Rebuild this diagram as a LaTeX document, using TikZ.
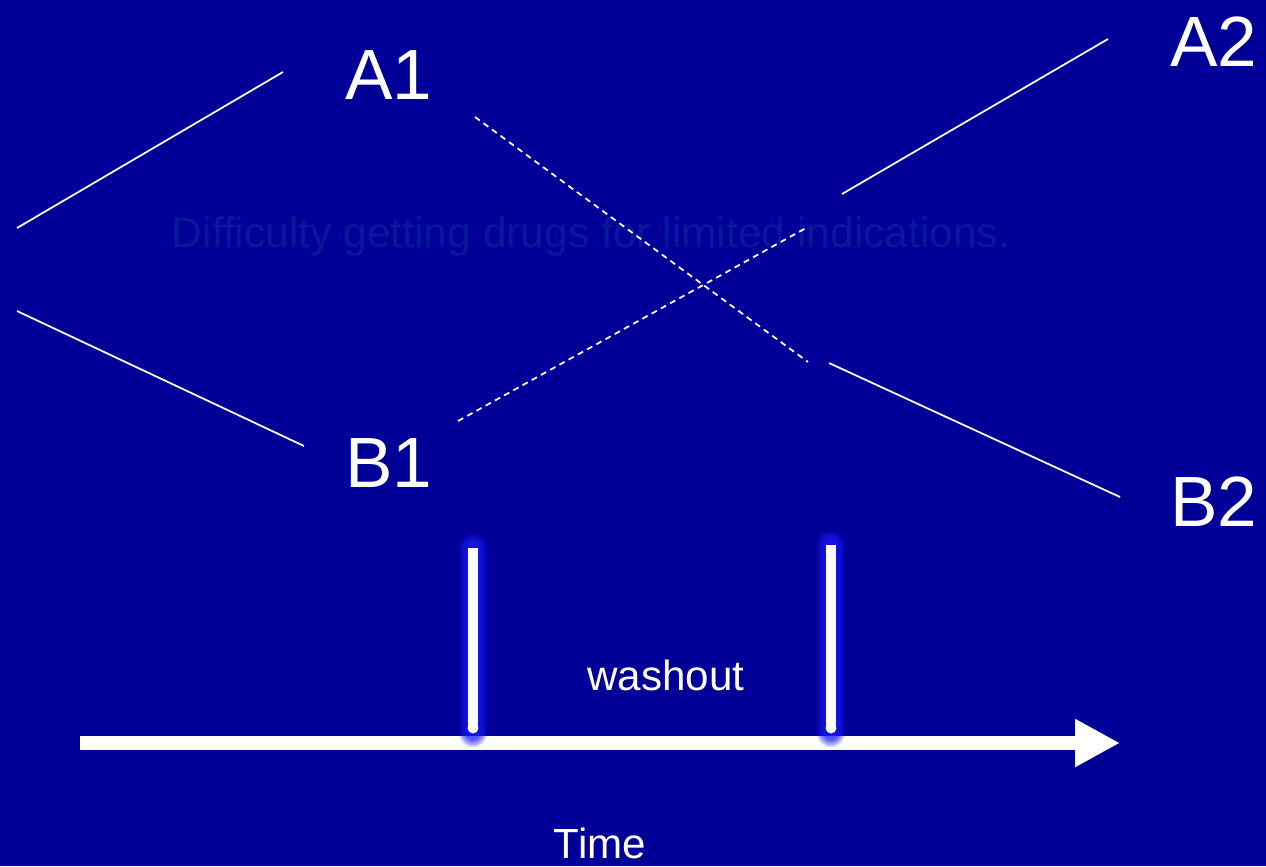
\documentclass[tikz,border=0pt]{standalone}
\usepackage{fontspec}
\setmainfont{Liberation Sans}
\definecolor{SlideBlue}{HTML}{000099}
\definecolor{FaintBlue}{HTML}{08189A}
\definecolor{GlowBlue}{HTML}{1A1AFF}
\usetikzlibrary{arrows.meta}

\begin{document}
\begin{tikzpicture}[x=0.02cm,y=-0.02cm,
  seg/.style={white,line width=1pt},
  dashseg/.style={white,line width=1pt,dash pattern=on 3.4pt off 2.6pt},
  big/.style={white,font=\fontsize{40.5}{42}\selectfont,inner sep=0pt},
  mid/.style={white,font=\fontsize{24}{28}\selectfont,inner sep=0pt}]
  \fill[SlideBlue] (0,0) rectangle (1266,866);
  \useasboundingbox (0,0) rectangle (1266,866);
  % faint caption behind the lines
  \node[FaintBlue,font=\fontsize{24.2}{28}\selectfont,inner sep=0pt] (cap) at (591,236) {Difficulty getting drugs for limited indications.};
  % period labels
  \node[big] (A1) at (389,75) {A1};
  \node[big] (B1) at (389,463) {B1};
  \node[big] (A2) at (1214,42) {A2};
  \node[big] (B2) at (1214,502) {B2};
  \coordinate (a1s) at (17,228);  \coordinate (a1e) at (283,72);
  \coordinate (b1s) at (17,311);  \coordinate (b1e) at (304,446);
  \coordinate (a2s) at (842,194); \coordinate (a2e) at (1108,39);
  \coordinate (b2s) at (829,363); \coordinate (b2e) at (1120,497);
  \coordinate (xa) at (475,117);  \coordinate (xb) at (808,362);
  \coordinate (ya) at (458,421);  \coordinate (yb) at (806,228);
  \draw[seg] (a1s) -- (a1e);
  \draw[seg] (b1s) -- (b1e);
  \draw[seg] (a2s) -- (a2e);
  \draw[seg] (b2s) -- (b2e);
  \draw[dashseg] (xa) -- (xb);
  \draw[dashseg] (ya) -- (yb);
  % time axis
  \coordinate (t0) at (80,743);
  \coordinate (t1) at (1120,743);
  \draw[white,line width=7.9pt,-{Triangle[length=0.9cm,width=0.9cm]}] (t0) -- (t1);
  % switch markers with soft glow
  \foreach \xx/\top in {473/548,831/545}{
    \foreach \w in {16,14,12,10.5,9,8}
      \draw[GlowBlue,opacity=0.2,line width=\w pt,line cap=round] (\xx,\top) -- (\xx,733);
    \draw[white,line width=6.2pt] (\xx,\top) -- (\xx,728);
    \fill[white] (\xx,728) circle (3.1pt);
  }
  \node[mid] (wash) at (666,675) {washout};
  \node[mid] (time) at (600,843) {Time};
\end{tikzpicture}
\end{document}
